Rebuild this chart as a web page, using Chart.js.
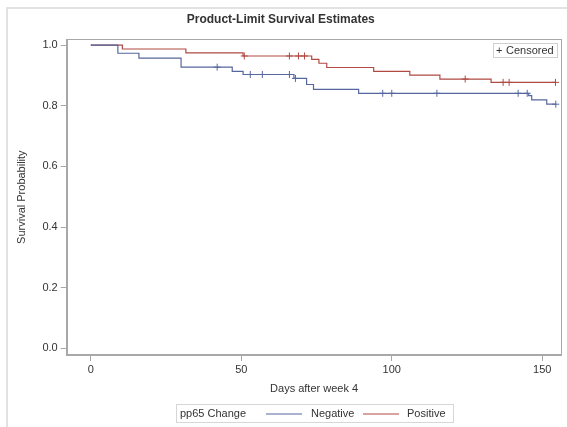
<!DOCTYPE html>
<html>
<head>
<meta charset="utf-8">
<script src="https://cdn.jsdelivr.net/npm/chart.js@4/dist/chart.umd.min.js"></script>
<style>
  html, body { margin: 0; padding: 0; background: #fff; }
  #wrap { position: relative; width: 567px; height: 427px; }
</style>
</head>
<body>
<div id="wrap"><canvas id="c" width="567" height="427"></canvas></div>
<script>
// ---- Data (days after week 4, survival probability) ----
const negTimes = [0, 9, 16, 30, 47, 50.6, 67.5, 71.7, 74, 89, 145.5, 146.5, 151.5, 154.5];
const negSurv  = [1.0, 0.973, 0.957, 0.927, 0.913, 0.903, 0.890, 0.870, 0.854, 0.841, 0.833, 0.819, 0.805, 0.805];
const posTimes = [0, 10.5, 31.6, 50.6, 73.4, 75.8, 78.4, 94, 106, 116, 133, 154.4];
const posSurv  = [1.0, 0.987, 0.974, 0.964, 0.953, 0.940, 0.926, 0.913, 0.901, 0.888, 0.877, 0.877];

const negCensTimes = [42, 53, 57, 66, 68, 97, 100, 115, 142, 145, 154.5];
const negCensSurv  = [0.927, 0.903, 0.903, 0.903, 0.890, 0.841, 0.841, 0.841, 0.841, 0.841, 0.805];
const posCensTimes = [51, 66, 69, 71, 124.4, 137, 139, 154.4];
const posCensSurv  = [0.964, 0.964, 0.964, 0.964, 0.888, 0.877, 0.877, 0.877];

const xTickValues = [0, 50, 100, 150];
const yTickValues = [0, 0.2, 0.4, 0.6, 0.8, 1.0];

const titleText = 'Product-Limit Survival Estimates';
const xTitle = 'Days after week 4';
const yTitle = 'Survival Probability';
const legendTitle = 'pp65 Change';
const seriesNames = ['Negative', 'Positive'];
const censoredLabel = 'Censored';

// ---- Styles ----
const BLUE = '#56679f';
const RED = '#b04a42';
const AXIS = '#a8a8a8';
const TEXT = '#333333';
const FONT = "'Liberation Sans', Arial, sans-serif";

const toPts = (xs, ys) => xs.map((x, i) => ({ x: x, y: ys[i] }));

const decor = {
  id: 'decor',
  beforeDraw(chart) {
    const ctx = chart.ctx;
    ctx.save();
    ctx.fillStyle = '#fff';
    ctx.fillRect(0, 0, chart.width, chart.height);
    ctx.strokeStyle = '#e2e2e2';
    ctx.lineWidth = 2;
    ctx.beginPath();
    ctx.moveTo(7, chart.height);
    ctx.lineTo(7, 8);
    ctx.lineTo(chart.width, 8);
    ctx.stroke();
    ctx.restore();
  },
  beforeDatasetsDraw(chart) {
    const a = chart.chartArea;
    const ctx = chart.ctx;
    ctx.save();
    ctx.strokeStyle = AXIS;
    ctx.lineWidth = 1;
    ctx.strokeRect(Math.round(a.left) + 0.5, Math.round(a.top) + 0.5,
                   Math.round(a.right - a.left) - 1, Math.round(a.bottom - a.top) - 1);
    ctx.restore();
  },
  afterDraw(chart) {
    const ctx = chart.ctx;
    ctx.save();
    // Censored inset legend
    ctx.strokeStyle = '#d0d0d0';
    ctx.lineWidth = 1;
    ctx.strokeRect(493.5, 43.5, 64, 14);
    ctx.font = '11px ' + FONT;
    ctx.fillStyle = TEXT;
    ctx.textBaseline = 'middle';
    ctx.textAlign = 'left';
    ctx.fillText('+', 496, 50.5);
    ctx.fillText(censoredLabel, 506, 50.5);

    // Bottom legend
    ctx.strokeStyle = '#d6d6d6';
    ctx.strokeRect(176.5, 404.5, 277, 18);
    ctx.fillStyle = TEXT;
    ctx.fillText(legendTitle, 180, 414);
    ctx.lineWidth = 1.2;
    ctx.strokeStyle = BLUE;
    ctx.beginPath(); ctx.moveTo(266, 414); ctx.lineTo(302, 414); ctx.stroke();
    ctx.fillText(seriesNames[0], 311, 414);
    ctx.strokeStyle = RED;
    ctx.beginPath(); ctx.moveTo(363, 414); ctx.lineTo(399, 414); ctx.stroke();
    ctx.fillText(seriesNames[1], 407, 414);
    ctx.restore();
  }
};

new Chart(document.getElementById('c'), {
  type: 'line',
  data: {
    datasets: [
      { label: seriesNames[0], data: toPts(negTimes, negSurv), borderColor: BLUE, borderWidth: 1.2,
        pointRadius: 0, stepped: 'before', fill: false },
      { label: seriesNames[1], data: toPts(posTimes, posSurv), borderColor: RED, borderWidth: 1.2,
        pointRadius: 0, stepped: 'before', fill: false },
      { label: seriesNames[0] + ' ' + censoredLabel, data: toPts(negCensTimes, negCensSurv), showLine: false,
        pointStyle: 'cross', pointRadius: 3.5, borderColor: BLUE, borderWidth: 1, pointBorderColor: BLUE },
      { label: seriesNames[1] + ' ' + censoredLabel, data: toPts(posCensTimes, posCensSurv), showLine: false,
        pointStyle: 'cross', pointRadius: 3.5, borderColor: RED, borderWidth: 1, pointBorderColor: RED }
    ]
  },
  options: {
    responsive: false,
    animation: false,
    devicePixelRatio: 1,
    layout: { padding: { left: 0, right: 5.5, top: 0, bottom: 27 } },
    plugins: {
      legend: { display: false },
      tooltip: { enabled: false },
      title: {
        display: true, text: titleText, color: TEXT,
        font: { family: FONT, size: 12, weight: 'bold', lineHeight: 1.2 },
        padding: { top: 12.8, bottom: 12.1 }
      }
    },
    scales: {
      x: {
        type: 'linear', min: -8, max: 156.4,
        afterFit(s) { s.height = 45; },
        afterBuildTicks(s) { s.ticks = xTickValues.map(v => ({ value: v })); },
        ticks: { color: TEXT, font: { family: FONT, size: 11 }, padding: 2, maxRotation: 0,
                 callback: v => String(v) },
        grid: { drawOnChartArea: false, drawTicks: true, tickLength: 6, color: AXIS },
        border: { display: true, color: AXIS },
        title: { display: true, text: xTitle, color: TEXT, font: { family: FONT, size: 11 },
                 padding: { top: 0, bottom: 4.4 } }
      },
      y: {
        type: 'linear', min: -0.022, max: 1.019,
        afterFit(s) { s.width = 66.7; },
        afterBuildTicks(s) { s.ticks = yTickValues.map(v => ({ value: v })); },
        ticks: { color: TEXT, font: { family: FONT, size: 11 }, padding: 3,
                 callback: v => Number(v).toFixed(1) },
        grid: { drawOnChartArea: false, drawTicks: true, tickLength: 6, color: AXIS },
        border: { display: true, color: AXIS },
        title: { display: true, text: yTitle, color: TEXT, font: { family: FONT, size: 11 },
                 padding: { top: 15.4, bottom: 0 } }
      }
    }
  },
  plugins: [decor]
});
</script>
</body>
</html>
